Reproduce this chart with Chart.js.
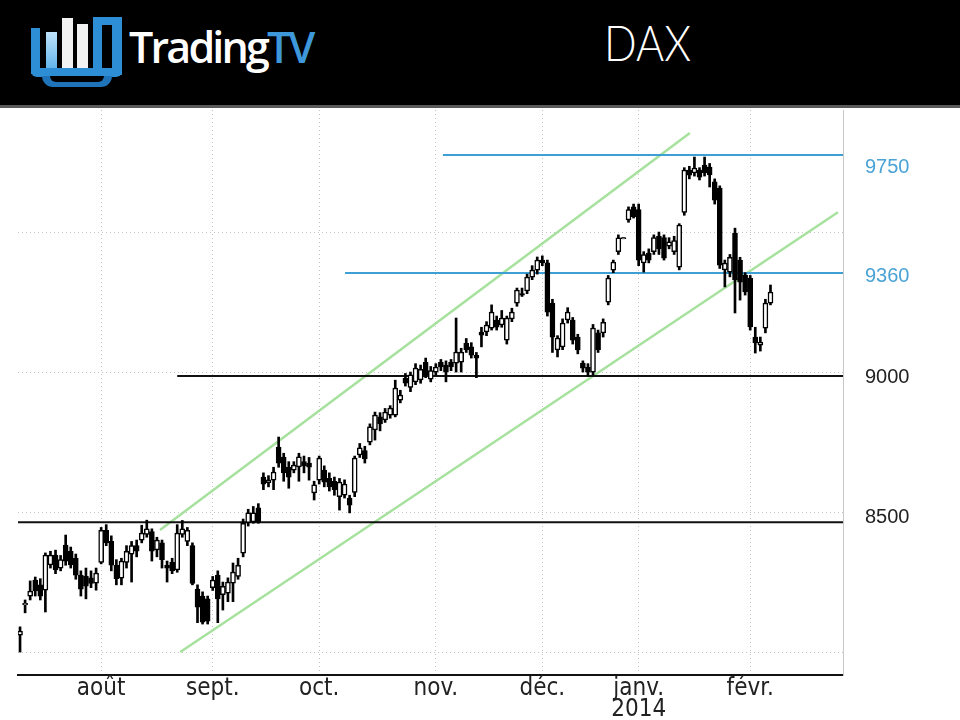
<!DOCTYPE html>
<html>
<head>
<meta charset="utf-8">
<script src="https://cdn.jsdelivr.net/npm/chart.js@4/dist/chart.umd.min.js"></script>
<style>
  html, body { margin: 0; padding: 0; background: #fff; }
  body { width: 960px; height: 720px; overflow: hidden; position: relative; }
  #hdr { position: absolute; left: 0; top: 0; width: 960px; height: 105px; background: #000; border-bottom: 3px solid #5a5a5a; }
  .ic { position: absolute; }
  .blue { background: #2d8ed6; }
  .brand { position: absolute; left: 129px; top: 17px; font-family: 'Open Sans', sans-serif; font-weight: 600; font-size: 43px; letter-spacing: -2.8px; color: #fff; }
  .brand span { color: #3d97d8; }
  .title { position: absolute; left: 604px; top: 12px; font-family: 'Lato', 'Open Sans', sans-serif; font-weight: 300; font-size: 50px; color: #fff; transform: scaleX(0.86); transform-origin: left top; }
  #wrap { position: absolute; left: 0; top: 108px; width: 960px; height: 612px; }
</style>
</head>
<body>
<div id="hdr">
  <div class="ic blue" style="left:31px;top:28px;width:9px;height:46px;"></div>
  <div class="ic" style="left:46px;top:32px;width:11px;height:38px;background:linear-gradient(#bfe3fb,#5fb3ea);"></div>
  <div class="ic" style="left:62px;top:18px;width:11px;height:52px;background:#f2f2f2;"></div>
  <div class="ic" style="left:77px;top:24px;width:11px;height:46px;background:#f2f2f2;"></div>
  <div class="ic blue" style="left:93px;top:17px;width:9px;height:58px;"></div>
  <div class="ic blue" style="left:102px;top:17px;width:20px;height:8px;"></div>
  <div class="ic blue" style="left:112px;top:17px;width:10px;height:58px;"></div>
  <div class="ic blue" style="left:31px;top:68px;width:91px;height:9px;border-radius:0 0 6px 6px;"></div>
  <div class="ic blue" style="left:42px;top:76px;width:70px;height:11px;border-radius:0 0 30px 30px;background:#1f73b8;"></div>
  <div class="ic" style="left:50px;top:76px;width:54px;height:6px;background:#000;border-radius:0 0 20px 20px;"></div>
  <div class="brand">Trading<span>TV</span></div>
  <div class="title">DAX</div>
</div>
<div id="wrap"><canvas id="myChart" width="960" height="612"></canvas></div>
<script>
'use strict';

// daily candles, index 0 = first trading day shown (mid July 2013)
let openP = [
  8060, 8168, 8200, 8257, 8240, 8221, 8311, 8346, 8300, 8382,
  8360, 8335, 8275, 8270, 8265, 8246, 8320, 8435, 8395, 8310,
  8264, 8320, 8350, 8380, 8400, 8420, 8430, 8365, 8390, 8310,
  8320, 8293, 8420, 8395, 8380, 8225, 8200, 8190, 8230, 8275,
  8205, 8210, 8246, 8270, 8353, 8462, 8465, 8515, 8625, 8605,
  8614, 8732, 8696, 8660, 8650, 8661, 8680, 8675, 8568, 8614,
  8650, 8620, 8610, 8555, 8560, 8550, 8570, 8704, 8720, 8750,
  8793, 8840, 8829, 8846, 8846, 8900, 8978, 8945, 8965, 8972,
  9035, 8975, 9000, 9035, 9025, 9035, 9032, 9035, 9103, 9090,
  9060, 9143, 9143, 9157, 9186, 9168, 9114, 9190, 9246, 9280,
  9290, 9339, 9364, 9400, 9390, 9246, 9079, 9090, 9186, 9186,
  9125, 9032, 9018, 9000, 9140, 9140, 9250, 9364, 9430, 9476,
  9543, 9590, 9580, 9390, 9425, 9430, 9485, 9480, 9450, 9430,
  9375, 9570, 9721, 9711, 9721, 9739, 9732, 9679, 9657, 9365,
  9357, 9496, 9400, 9346, 9336, 9125, 9096, 9157, 9246
];
let highP = [
  8090, 8186, 8254, 8268, 8262, 8354, 8360, 8364, 8345, 8418,
  8375, 8350, 8290, 8300, 8290, 8300, 8445, 8455, 8415, 8330,
  8335, 8380, 8395, 8400, 8453, 8471, 8440, 8410, 8400, 8325,
  8335, 8455, 8470, 8445, 8390, 8240, 8215, 8200, 8270, 8290,
  8250, 8265, 8318, 8335, 8475, 8510, 8520, 8530, 8640, 8630,
  8660, 8768, 8710, 8680, 8680, 8710, 8700, 8695, 8610, 8700,
  8665, 8640, 8625, 8620, 8615, 8560, 8700, 8745, 8735, 8815,
  8857, 8855, 8870, 8880, 8971, 8935, 8995, 9000, 9030, 9025,
  9050, 9020, 9030, 9045, 9040, 9045, 9193, 9085, 9120, 9105,
  9070, 9160, 9180, 9240, 9200, 9220, 9200, 9228, 9300, 9300,
  9350, 9380, 9411, 9415, 9400, 9260, 9130, 9190, 9230, 9195,
  9135, 9040, 9030, 9170, 9150, 9190, 9345, 9400, 9490, 9480,
  9590, 9600, 9600, 9430, 9440, 9490, 9500, 9490, 9480, 9485,
  9530, 9730, 9735, 9768, 9730, 9768, 9745, 9690, 9665, 9400,
  9420, 9514, 9410, 9355, 9345, 9160, 9125, 9260, 9311
];
let lowP = [
  8000, 8140, 8186, 8200, 8186, 8143, 8300, 8280, 8290, 8310,
  8300, 8260, 8200, 8190, 8230, 8221, 8315, 8380, 8290, 8240,
  8240, 8300, 8250, 8340, 8390, 8410, 8325, 8340, 8300, 8250,
  8280, 8285, 8410, 8380, 8240, 8105, 8100, 8100, 8220, 8105,
  8150, 8180, 8180, 8260, 8340, 8450, 8460, 8460, 8580, 8590,
  8580, 8660, 8610, 8585, 8640, 8610, 8640, 8614, 8543, 8600,
  8590, 8575, 8560, 8507, 8550, 8497, 8555, 8695, 8675, 8740,
  8757, 8790, 8820, 8835, 8840, 8890, 8950, 8930, 8955, 8960,
  8980, 8965, 8990, 9005, 8965, 9005, 9000, 9000, 9070, 9050,
  8980, 9090, 9130, 9150, 9150, 9160, 9100, 9180, 9235, 9270,
  9280, 9330, 9350, 9380, 9200, 9070, 9054, 9080, 9175, 9100,
  9065, 9000, 8985, 8990, 9070, 9125, 9240, 9355, 9420, 9476,
  9535, 9550, 9380, 9357, 9390, 9420, 9420, 9400, 9440, 9420,
  9365, 9560, 9690, 9700, 9686, 9700, 9661, 9600, 9370, 9304,
  9340, 9211, 9257, 9275, 9150, 9068, 9075, 9140, 9240
];
let closeP = [
  8075, 8174, 8218, 8218, 8200, 8346, 8346, 8293, 8330, 8325,
  8311, 8275, 8225, 8235, 8245, 8282, 8435, 8390, 8310, 8262,
  8325, 8360, 8380, 8360, 8425, 8440, 8360, 8400, 8330, 8300,
  8290, 8425, 8440, 8435, 8245, 8160, 8107, 8110, 8257, 8190,
  8235, 8250, 8286, 8310, 8460, 8497, 8497, 8465, 8600, 8615,
  8643, 8675, 8640, 8625, 8668, 8697, 8665, 8660, 8597, 8693,
  8607, 8590, 8580, 8607, 8600, 8525, 8693, 8729, 8690, 8804,
  8846, 8815, 8857, 8871, 8943, 8918, 8960, 8990, 9014, 9010,
  8990, 9005, 9018, 9018, 9000, 9018, 9071, 9071, 9079, 9060,
  9050, 9132, 9168, 9214, 9160, 9193, 9193, 9214, 9293, 9275,
  9339, 9364, 9400, 9390, 9214, 9125, 9121, 9175, 9214, 9114,
  9079, 9014, 9000, 9157, 9079, 9178, 9336, 9393, 9479, 9480,
  9580, 9555, 9400, 9420, 9400, 9480, 9440, 9407, 9465, 9470,
  9525, 9721, 9703, 9729, 9696, 9711, 9704, 9614, 9382, 9389,
  9410, 9329, 9321, 9286, 9161, 9104, 9107, 9246, 9286
];

// month ticks (candle index of first trading day)
let monthIdx = [16, 38, 59, 82, 103, 122, 144];
let monthLabels = ['août', 'sept.', 'oct.', 'nov.', 'déc.', ['janv.', '2014'], 'févr.'];

// right axis
let gridValues = [8000, 8500, 9000, 9500];
let labelValues = [8500, 9000, 9360, 9750];
let blueLabels = [9360, 9750];

// drawn levels: [startIndex, value]
let blueLevels = [[83.4, 9775], [64.1, 9354]];
let blackLevels = [[31, 8986], [-0.4, 8464]];
// trend channel: [x1, y1, x2, y2]
let greenLines = [[27.6, 8436, 132.1, 9854], [31.6, 8000, 161.3, 9571]];

let xMin = -0.4;
let xMax = 162.3;
let yMin = 7918;
let yMax = 9936;

let wickData = [];
let bodyData = [];
let bodyColors = [];
for (let i = 0; i < openP.length; i++) {
    wickData.push({x: i, y: [lowP[i], highP[i]]});
    bodyData.push({x: i, y: [openP[i], closeP[i]]});
    bodyColors.push(closeP[i] >= openP[i] ? '#ffffff' : '#000000');
}

let datasets = [];
datasets.push({
    type: 'bar', data: wickData, backgroundColor: '#000', barThickness: 2,
    grouped: false, order: 1
});
datasets.push({
    type: 'bar', data: bodyData, backgroundColor: bodyColors, borderColor: '#000',
    borderWidth: 1.5, borderSkipped: false, barThickness: 5, grouped: false, order: 0
});
for (let i = 0; i < blueLevels.length; i++) {
    datasets.push({
        type: 'line', data: [{x: blueLevels[i][0], y: blueLevels[i][1]}, {x: xMax, y: blueLevels[i][1]}],
        borderColor: '#3d9fd3', borderWidth: 2, pointRadius: 0, order: 5
    });
}
for (let i = 0; i < blackLevels.length; i++) {
    datasets.push({
        type: 'line', data: [{x: blackLevels[i][0], y: blackLevels[i][1]}, {x: xMax, y: blackLevels[i][1]}],
        borderColor: '#111', borderWidth: 2, pointRadius: 0, order: 5
    });
}
for (let i = 0; i < greenLines.length; i++) {
    let g = greenLines[i];
    datasets.push({
        type: 'line', data: [{x: g[0], y: g[1]}, {x: g[2], y: g[3]}],
        borderColor: 'rgba(150, 220, 140, 0.85)', borderWidth: 2.5, pointRadius: 0, order: 6
    });
}

let config = {
    type: 'bar',
    data: { datasets: datasets },
    options: {
        responsive: false,
        animation: false,
        layout: { padding: { left: 18, top: 2, right: 0, bottom: 0 } },
        plugins: { legend: { display: false }, tooltip: { enabled: false } },
        scales: {
            x: {
                type: 'linear', min: xMin, max: xMax, offset: false,
                afterBuildTicks: function (s) { s.ticks = monthIdx.map(v => ({value: v})); },
                afterFit: function (s) { s.height = 45; },
                ticks: {
                    autoSkip: false, maxRotation: 0, padding: 3, color: '#222',
                    font: { family: "'Liberation Sans Narrow', 'DejaVu Sans Condensed', sans-serif", size: 24, lineHeight: 0.88 },
                    callback: function (v) { return monthLabels[monthIdx.indexOf(v)]; }
                },
                grid: { offset: false, color: '#c4c4c4', lineWidth: 1, drawTicks: false },
                border: { color: '#111', width: 2, dash: [1, 3] }
            },
            y: {
                position: 'right', min: yMin, max: yMax,
                afterBuildTicks: function (s) {
                    let vals = gridValues.concat(blueLabels).sort((a, b) => a - b);
                    s.ticks = vals.map(v => ({value: v}));
                },
                afterFit: function (s) {
                    s.width = 117;
                    s.paddingTop = 0;
                    s.paddingBottom = 0;
                },
                ticks: {
                    padding: 22,
                    labelOffset: 5,
                    font: { family: "'Liberation Sans', Arial, sans-serif", size: 20 },
                    color: function (ctx) { return blueLabels.includes(ctx.tick.value) ? '#4aa3d6' : '#222'; },
                    callback: function (v) { return labelValues.includes(v) ? String(v) : ''; }
                },
                grid: {
                    drawTicks: false, lineWidth: 1,
                    color: function (ctx) { return ctx.tick && gridValues.includes(ctx.tick.value) ? '#c4c4c4' : 'rgba(0,0,0,0)'; }
                },
                border: { color: '#c8c8c8', width: 1, dash: [1, 3] }
            }
        }
    }
};

let myChart = new Chart(document.getElementById('myChart'), config);
</script>
</body>
</html>
